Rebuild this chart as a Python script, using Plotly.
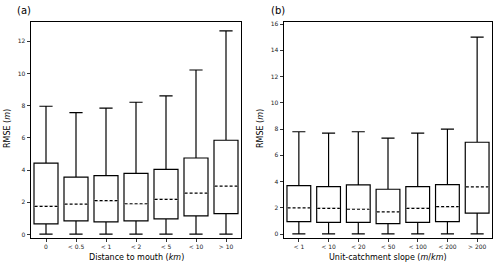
import plotly.graph_objects as go

# Panel (a): Distance to mouth
cats_a = ["0", "< 0.5", "< 1", "< 2", "< 5", "< 10", "> 10"]
lo_a = [0.02, 0.02, 0.02, 0.02, 0.02, 0.02, 0.02]
q1_a = [0.66, 0.85, 0.78, 0.85, 0.97, 1.15, 1.30]
med_a = [1.75, 1.88, 2.10, 1.91, 2.18, 2.57, 3.00]
q3_a = [4.43, 3.56, 3.66, 3.79, 4.04, 4.75, 5.85]
hi_a = [7.96, 7.57, 7.84, 8.21, 8.60, 10.21, 12.64]

# Panel (b): Unit-catchment slope
cats_b = ["< 1", "< 10", "< 20", "< 50", "< 100", "< 200", "> 200"]
lo_b = [0.02, 0.02, 0.02, 0.02, 0.02, 0.02, 0.02]
q1_b = [0.95, 0.90, 0.90, 0.80, 0.90, 0.95, 1.60]
med_b = [2.00, 1.97, 1.90, 1.70, 1.97, 2.10, 3.60]
q3_b = [3.70, 3.62, 3.75, 3.42, 3.62, 3.78, 7.00]
hi_b = [7.80, 7.70, 7.80, 7.32, 7.70, 8.00, 15.00]

yticks_a = [0, 2, 4, 6, 8, 10, 12]
yticks_b = [0, 2, 4, 6, 8, 10, 12, 14, 16]

FONT = "DejaVu Sans"
W, H = 500, 267
BOXW = 0.8

fig = go.Figure()


def add_panel(cats, lo, q1, med, q3, hi, xa, ya):
    idx = list(range(len(cats)))
    fig.add_trace(go.Box(
        x=idx, q1=q1, median=med, q3=q3, lowerfence=lo, upperfence=hi,
        width=BOXW, whiskerwidth=0.55, fillcolor="white",
        line=dict(color="black", width=1.2), boxpoints=False,
        xaxis=xa, yaxis=ya, showlegend=False, hoverinfo="skip"))
    half = BOXW / 2 - 0.02
    for lw, col, dash in [(2.2, "white", "solid"), (1.2, "black", "3px,2px")]:
        xs, ys = [], []
        for i, m in zip(idx, med):
            xs += [i - half, i + half, None]
            ys += [m, m, None]
        fig.add_trace(go.Scatter(
            x=xs, y=ys, mode="lines",
            line=dict(color=col, width=lw, dash=dash),
            xaxis=xa, yaxis=ya, showlegend=False, hoverinfo="skip"))


add_panel(cats_a, lo_a, q1_a, med_a, q3_a, hi_a, "x", "y")
add_panel(cats_b, lo_b, q1_b, med_b, q3_b, hi_b, "x2", "y2")

ax_common = dict(showline=True, mirror=True, linecolor="black", linewidth=1,
                 ticks="outside", ticklen=3.5, tickwidth=0.8, tickcolor="black",
                 showgrid=False, zeroline=False,
                 tickfont=dict(family=FONT, size=6, color="#222"))

xd_a = [31 / W, 241 / W]
xd_b = [284 / W, 492 / W]
yd = [1 - 237.5 / H, 1 - 20 / H]

fig.update_layout(
    width=W, height=H, margin=dict(l=0, r=0, t=0, b=0),
    paper_bgcolor="white", plot_bgcolor="white",
    font=dict(family=FONT, color="black"),
    xaxis=dict(domain=xd_a, range=[-0.5, 6.5], tickvals=list(range(7)), ticktext=cats_a,
               anchor="y", **ax_common),
    yaxis=dict(domain=yd, range=[-0.2, 13.2], tickvals=yticks_a, anchor="x", **ax_common),
    xaxis2=dict(domain=xd_b, range=[-0.5, 6.5], tickvals=list(range(7)), ticktext=cats_b,
                anchor="y2", **ax_common),
    yaxis2=dict(domain=yd, range=[-0.27, 16.17], tickvals=yticks_b, anchor="x2", **ax_common),
)

ann = []
ann.append(dict(text="(a)", x=15 / W, y=1 - 9 / H, xref="paper", yref="paper",
                xanchor="left", yanchor="middle", showarrow=False, font=dict(size=10)))
ann.append(dict(text="(b)", x=269 / W, y=1 - 9 / H, xref="paper", yref="paper",
                xanchor="left", yanchor="middle", showarrow=False, font=dict(size=10)))
ann.append(dict(text="Distance to mouth (<i>km</i>)", x=(31 + 241) / 2 / W, y=1 - 257 / H,
                xref="paper", yref="paper", xanchor="center", yanchor="middle",
                showarrow=False, font=dict(size=8)))
ann.append(dict(text="Unit-catchment slope (<i>m</i>/<i>km</i>)", x=(284 + 492) / 2 / W,
                y=1 - 257 / H, xref="paper", yref="paper", xanchor="center",
                yanchor="middle", showarrow=False, font=dict(size=8)))
for xc in [7, 260]:
    ann.append(dict(text="RMSE (<i>m</i>)", x=xc / W, y=1 - 128 / H, xref="paper",
                    yref="paper", xanchor="center", yanchor="middle", textangle=-90,
                    showarrow=False, font=dict(size=8)))
fig.update_layout(annotations=ann)

fig.write_html("out.html", config={"displayModeBar": False, "staticPlot": True})

# remove default page margin so the figure sits at the window's top-left corner
with open("out.html", "r", encoding="utf-8") as f:
    html = f.read()
html = html.replace("<head>", "<head><style>html,body{margin:0;padding:0;overflow:hidden;}</style>", 1)
with open("out.html", "w", encoding="utf-8") as f:
    f.write(html)
